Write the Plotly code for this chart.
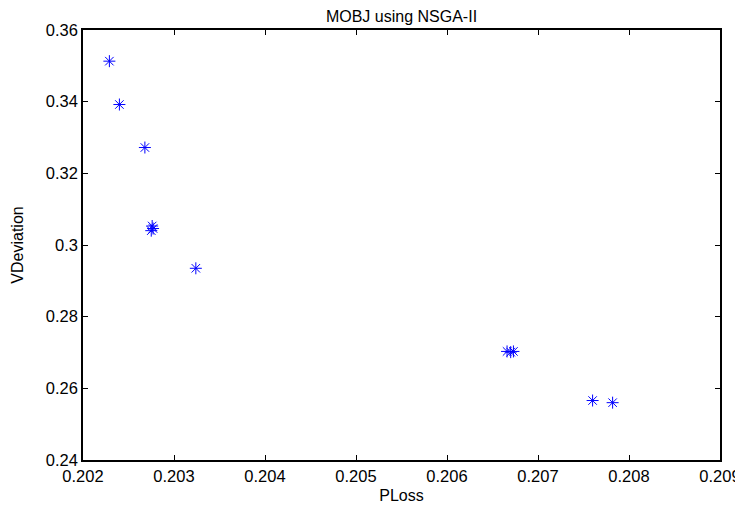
import plotly.graph_objects as go

# Data
ploss = [0.20229, 0.20240, 0.20268, 0.20276, 0.20277, 0.20275, 0.20324,
         0.20666, 0.20673, 0.20670, 0.20760, 0.20782]
vdev = [0.3513, 0.3392, 0.3272, 0.3053, 0.3046, 0.3040, 0.2935,
        0.2703, 0.2703, 0.2701, 0.2566, 0.2560]

x_ticks = [0.202, 0.203, 0.204, 0.205, 0.206, 0.207, 0.208, 0.209]
x_labels = ["0.202", "0.203", "0.204", "0.205", "0.206", "0.207", "0.208", "0.209"]
y_ticks = [0.24, 0.26, 0.28, 0.30, 0.32, 0.34, 0.36]
y_labels = ["0.24", "0.26", "0.28", "0.3", "0.32", "0.34", "0.36"]

font = "Liberation Sans, Arial, sans-serif"

fig = go.Figure()
fig.add_trace(go.Scatter(
    x=ploss, y=vdev, mode="markers",
    marker=dict(symbol="asterisk-open", size=10, color="blue",
                line=dict(color="blue", width=1)),
    showlegend=False,
))

axis_common = dict(
    showgrid=False, zeroline=False, showline=True, linecolor="black",
    linewidth=1.5, mirror="ticks", ticks="inside", ticklen=5,
    tickcolor="black", tickfont=dict(family=font, size=16.5, color="black"),
    ticklabeloverflow="allow", automargin=False,
)

# page body has an 8px margin: figure is 735x500 so the whole page is 743x508
fig.update_layout(
    width=735, height=500,
    margin=dict(l=75, r=23, t=22, b=48, autoexpand=False),
    paper_bgcolor="white", plot_bgcolor="white",
    title=dict(text="MOBJ using NSGA-II", xref="paper", x=0.5, xanchor="center",
               yref="container", y=0.994, yanchor="top",
               font=dict(family=font, size=16, color="black")),
    xaxis=dict(range=[0.202, 0.209], tickvals=x_ticks, ticktext=x_labels,
               title=dict(text="PLoss", standoff=6,
                          font=dict(family=font, size=16, color="black")),
               **axis_common),
    yaxis=dict(range=[0.24, 0.36], tickvals=y_ticks, ticktext=y_labels,
               title=dict(text="VDeviation", standoff=18,
                          font=dict(family=font, size=16, color="black")),
               **axis_common),
)

fig.write_html("out.html")
